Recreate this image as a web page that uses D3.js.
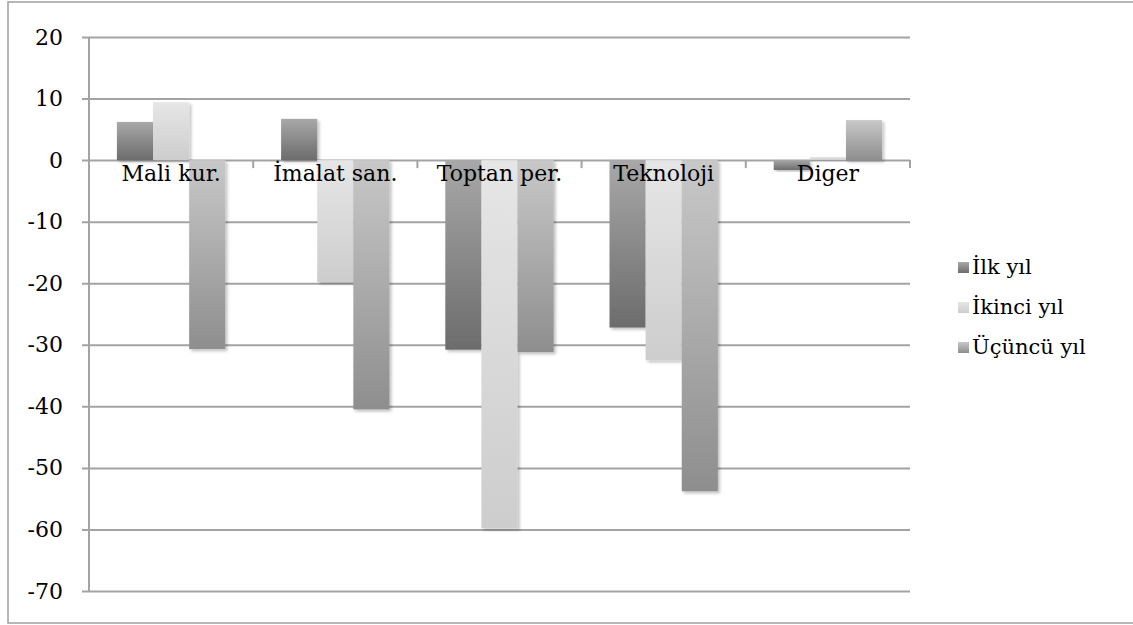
<!DOCTYPE html>
<html>
<head>
<meta charset="utf-8">
<script src="https://cdn.jsdelivr.net/npm/d3@7"></script>
<style>
  body { margin: 0; background: #fff; }
  svg { display: block; }
</style>
</head>
<body>
<div id="container"></div>
<script>
// datos
const categories = ["Mali kur.", "İmalat san.", "Toptan per.", "Teknoloji", "Diger"];
const seriesNames = ["İlk yıl", "İkinci yıl", "Üçüncü yıl"];
const ilkYil = [6.2, 6.7, -30.8, -27.2, -1.6];
const ikinciYil = [9.4, -19.8, -59.8, -32.5, 0.5];
const ucuncuYil = [-30.7, -40.5, -31.2, -53.8, 6.5];
const yTicks = [20, 10, 0, -10, -20, -30, -40, -50, -60, -70];

const WIDTH = 1133, HEIGHT = 625;
const margin = { left: 89, right: 223, top: 37, bottom: 34 };
const FONT = "'DejaVu Serif', serif";

const svg = d3.select("#container").append("svg")
    .attr("width", WIDTH).attr("height", HEIGHT)
    .attr("font-family", FONT);

// gradientes y sombra
const defs = svg.append("defs");
const grads = [["#a8a8a8", "#6c6c6c"], ["#e6e6e6", "#cdcdcd"], ["#c8c8c8", "#8e8e8e"]];
grads.forEach((g, i) => {
    const lg = defs.append("linearGradient").attr("id", "g" + i)
        .attr("x1", 0).attr("y1", 0).attr("x2", 0).attr("y2", 1);
    lg.append("stop").attr("offset", "0%").attr("stop-color", g[0]);
    lg.append("stop").attr("offset", "100%").attr("stop-color", g[1]);
});
defs.append("filter").attr("id", "shadow")
    .attr("x", "-10%").attr("y", "-10%").attr("width", "130%").attr("height", "130%")
    .append("feDropShadow")
    .attr("dx", 2).attr("dy", 2).attr("stdDeviation", 1.5)
    .attr("flood-color", "#000").attr("flood-opacity", 0.25);

// marco exterior
svg.append("rect")
    .attr("x", 8).attr("y", 2).attr("width", 1140).attr("height", 621)
    .attr("fill", "none").attr("stroke", "#a0a0a0").attr("stroke-width", 1.5);

const x0 = d3.scaleBand().domain(categories)
    .range([margin.left, WIDTH - margin.right]).padding(0);
const x1 = d3.scaleBand().domain(seriesNames)
    .range([x0.bandwidth() * 0.17, x0.bandwidth() * 0.83]).padding(0);
const y = d3.scaleLinear().domain([-70, 20]).range([HEIGHT - margin.bottom, margin.top]);

// grilla + ticks del eje Y (guion normal en los negativos)
const yAxis = d3.axisLeft(y).tickValues(yTicks)
    .tickSize(0)
    .tickFormat(d => String(d));
const gy = svg.append("g")
    .attr("transform", `translate(${margin.left - 7},0)`)
    .call(yAxis)
    .attr("font-family", FONT)
    .attr("font-size", 22);
gy.select(".domain").remove();
gy.selectAll(".tick line").attr("stroke", "#a3a3a3").attr("stroke-width", 2)
    .attr("x1", 0).attr("x2", WIDTH - margin.right - margin.left + 7);
gy.selectAll(".tick text").attr("x", -19)
    .attr("fill", "#000").attr("font-family", FONT);

// eje vertical
svg.append("line")
    .attr("x1", margin.left).attr("x2", margin.left)
    .attr("y1", margin.top).attr("y2", HEIGHT - margin.bottom)
    .attr("stroke", "#a3a3a3").attr("stroke-width", 2);

// barras
const rows = categories.map((c, i) => ({
    cat: c, vals: [ilkYil[i], ikinciYil[i], ucuncuYil[i]]
}));
const groups = svg.append("g").selectAll("g").data(rows).join("g")
    .attr("transform", d => `translate(${x0(d.cat)},0)`);
groups.selectAll("rect")
    .data(d => d.vals.map((v, k) => ({ k, v })))
    .join("rect")
    .attr("x", d => x1(seriesNames[d.k]))
    .attr("width", x1.bandwidth())
    .attr("y", d => y(Math.max(0, d.v)))
    .attr("height", d => Math.abs(y(d.v) - y(0)))
    .attr("fill", d => `url(#g${d.k})`)
    .attr("filter", "url(#shadow)");

// ticks del eje de categorías (sobre la línea 0)
const bounds = categories.map(c => x0(c) + x0.bandwidth());
svg.append("g").selectAll("line").data(bounds).join("line")
    .attr("x1", d => d).attr("x2", d => d)
    .attr("y1", y(0)).attr("y2", y(0) + 8)
    .attr("stroke", "#a3a3a3").attr("stroke-width", 2);

// etiquetas de categorías
svg.append("g").selectAll("text").data(categories).join("text")
    .attr("x", d => x0(d) + x0.bandwidth() / 2)
    .attr("y", y(0) + 21)
    .attr("text-anchor", "middle")
    .attr("font-family", FONT)
    .attr("font-size", 22)
    .text(d => d);

// leyenda
const legend = svg.append("g").selectAll("g").data(seriesNames).join("g")
    .attr("transform", (d, i) => `translate(958,${262 + i * 40})`);
legend.append("rect")
    .attr("width", 11).attr("height", 11)
    .attr("fill", (d, i) => `url(#g${i})`);
legend.append("text")
    .attr("x", 14).attr("y", 12)
    .attr("font-family", FONT)
    .attr("font-size", 21)
    .text(d => d);
</script>
</body>
</html>
